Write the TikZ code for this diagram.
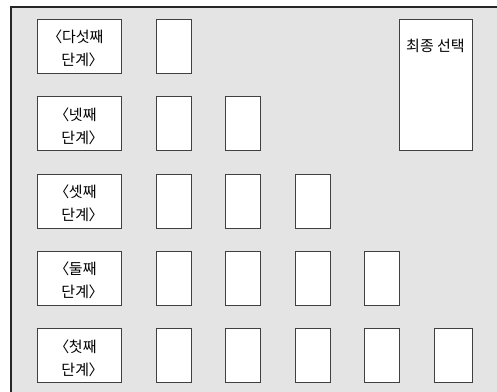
\documentclass[tikz,border=0pt]{standalone}
\usepackage{fontspec}
\setmainfont[RawFeature=+palt]{Noto Sans CJK KR}
\definecolor{bgc}{HTML}{E4E4E4}
\definecolor{edge}{HTML}{404040}
\begin{document}
\begin{tikzpicture}[x=1pt,y=-1pt,
  stagebox/.style={draw=edge,line width=1pt,fill=white,minimum width=84pt,minimum height=54pt,inner sep=0pt,
    label={[yshift=-2.5pt,align=center,inner sep=0pt,font=\fontsize{15}{23}\selectfont]center:#1}},
  cellbox/.style={draw=edge,line width=1pt,fill=white,minimum width=35pt,minimum height=54pt,inner sep=0pt},
  finalbox/.style={draw=edge,line width=1pt,fill=white,minimum width=73pt,minimum height=131pt,inner sep=0pt}]
\clip (0,0) rectangle (497,391);
\useasboundingbox (0,0) rectangle (497,391);
\fill[white] (0,0) rectangle (497,391);
\draw[fill=bgc,line width=1.5pt,draw=black!85] (11,7) rectangle (520,410);
% stage labels
\node[stagebox={〈다섯째\\단계〉}] (s5) at (79,46) {};
\node[stagebox={〈넷째\\단계〉}] (s4) at (79,123.5) {};
\node[stagebox={〈셋째\\단계〉}] (s3) at (79,201) {};
\node[stagebox={〈둘째\\단계〉}] (s2) at (79,278) {};
\node[stagebox={〈첫째\\단계〉}] (s1) at (79,355.5) {};
% row 5
\node[cellbox] (c51) at (173.5,46) {};
% row 4
\node[cellbox] (c41) at (173.5,123.5) {};
\node[cellbox] (c42) at (242.5,123.5) {};
% row 3
\node[cellbox] (c31) at (173.5,201) {};
\node[cellbox] (c32) at (242.5,201) {};
\node[cellbox] (c33) at (312.5,201) {};
% row 2
\node[cellbox] (c21) at (173.5,278) {};
\node[cellbox] (c22) at (242.5,278) {};
\node[cellbox] (c23) at (312.5,278) {};
\node[cellbox] (c24) at (381.5,278) {};
% row 1
\node[cellbox] (c11) at (173.5,355.5) {};
\node[cellbox] (c12) at (242.5,355.5) {};
\node[cellbox] (c13) at (312.5,355.5) {};
\node[cellbox] (c14) at (381.5,355.5) {};
\node[cellbox,minimum width=38pt] (c15) at (453,355.5) {};
% final selection
\node[finalbox] (fin) at (435.5,84.5) {};
\node[font=\fontsize{15}{16}\selectfont,anchor=center] (fintext) at (435.5,46) {최종 선택};
\end{tikzpicture}
\end{document}
